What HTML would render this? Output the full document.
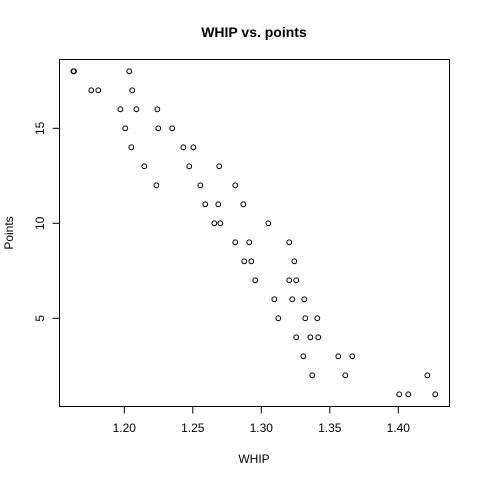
<!DOCTYPE html>
<html><head><meta charset="utf-8"><style>
html,body{margin:0;padding:0;background:#fff;}
svg text{font-family:"Liberation Sans",Arial,sans-serif;fill:#000;}
</style></head><body>
<svg id="chart" width="480" height="480" viewBox="0 0 480 480" xmlns="http://www.w3.org/2000/svg">
<rect width="480" height="480" fill="#fff"/>
<text x="254" y="37" font-size="14" font-weight="bold" text-anchor="middle">WHIP vs. points</text>
<rect x="59.5" y="59.5" width="390" height="347" fill="none" stroke="#000" stroke-width="1"/>
<text x="254" y="463" font-size="12" text-anchor="middle">WHIP</text>
<text x="13" y="233" font-size="12" text-anchor="middle" transform="rotate(-90 13 233)">Points</text>
<g id="axes"></g>
<g id="points"></g>
</svg>
<script>
const whip = [1.1628,1.1633,1.2036,1.1759,1.1810,1.2058,1.1971,1.2088,1.2241,1.2007,1.2248,1.2350,1.2051,1.2431,1.2504,1.2146,1.2474,1.2693,1.2234,1.2555,1.2810,1.2591,1.2686,1.2869,1.2657,1.2701,1.3051,1.2810,1.2912,1.3204,1.2876,1.2927,1.3241,1.2956,1.3204,1.3255,1.3095,1.3226,1.3314,1.3124,1.3321,1.3409,1.3255,1.3358,1.3416,1.3307,1.3562,1.3664,1.3372,1.3613,1.4007,1.4073,1.4270,1.4212];
const points = [18,18,18,17,17,17,16,16,16,15,15,15,14,14,14,13,13,13,12,12,12,11,11,11,10,10,10,9,9,9,8,8,8,7,7,7,6,6,6,5,5,5,4,4,4,3,3,3,2,2,1,1,1,2];
const xTicks = [1.20,1.25,1.30,1.35,1.40];
const xTickLabels = ["1.20","1.25","1.30","1.35","1.40"];
const yTicks = [5,10,15];
const yTickLabels = ["5","10","15"];
const NS = "http://www.w3.org/2000/svg";
function xScale(v){ return 124.3 + (v - 1.20) * 1370; }
function yScale(v){ return 223.3 - (v - 10) * 19; }
const axes = document.getElementById('axes');
const pts = document.getElementById('points');
function mk(tag, attrs, parent){ const e=document.createElementNS(NS,tag); for(const k in attrs) e.setAttribute(k,attrs[k]); parent.appendChild(e); return e; }
xTicks.forEach((t,i)=>{
  const x = xScale(t);
  const l = mk('line',{x1:x,x2:x,y1:406.5,y2:413.5,stroke:'#000'},axes);
  
  
  const tx = mk('text',{x:x,y:432,'font-size':12,'text-anchor':'middle'},axes);
  tx.textContent = xTickLabels[i];
  
  
});
mk('line',{x1:xScale(xTicks[0]),x2:xScale(xTicks[xTicks.length-1]),y1:406.5,y2:406.5,stroke:'#000'},axes);
yTicks.forEach((t,i)=>{
  const y = yScale(t);
  const l = mk('line',{x1:52.5,x2:59.5,y1:y,y2:y,stroke:'#000'},axes);
  
  
  const tx = mk('text',{x:44,y:y,'font-size':12,'text-anchor':'middle',transform:`rotate(-90 44 ${y})`},axes);
  tx.textContent = yTickLabels[i];
  
  
});
whip.forEach((w,i)=>{
  const c = mk('circle',{cx:xScale(w),cy:yScale(points[i]),r:2.4,fill:'none',stroke:'#000','stroke-width':1},pts);
  
  
});
</script>
</body></html>
